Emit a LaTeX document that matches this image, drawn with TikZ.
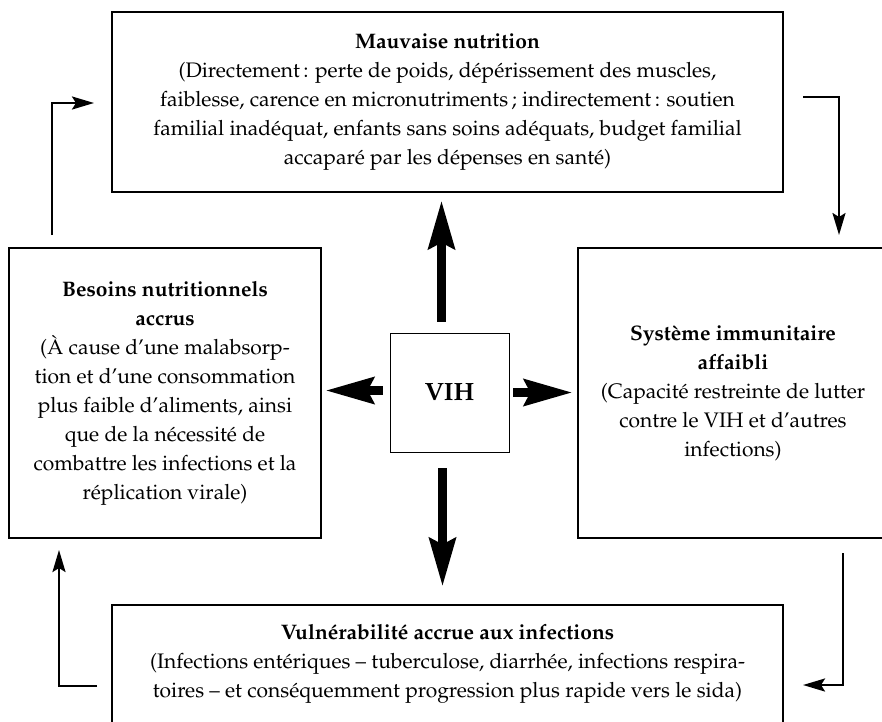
\documentclass[tikz,border=0pt]{standalone}
\IfFileExists{mathpazo.sty}
  {\usepackage[T1]{fontenc}\usepackage{mathpazo}}
  {\usepackage{fontspec}\setmainfont{Liberation Serif}}
\usetikzlibrary{arrows.meta}

\begin{document}
\begin{tikzpicture}[x=1pt,y=-1pt,
    box/.style={draw, line width=1.1pt, align=center, inner sep=0pt,
      font=\fontsize{21}{29}\selectfont},
    bigarrow/.style={line width=9pt, -{Stealth[length=48pt,width=26pt,inset=6pt]}},
    cyclearrow/.style={line width=2.4pt, -{Stealth[length=22pt,width=13pt,inset=4pt]}}]
    \useasboundingbox (0,0) rectangle (882,721);

    \node[box, minimum width=671pt, minimum height=180pt] (nutri) at (447.5,102)
      {\textbf{Mauvaise nutrition}\\
       (Directement\,: perte de poids, dépérissement des muscles,\\
       faiblesse, carence en micronutriments\,; indirectement\,: soutien\\
       familial inadéquat, enfants sans soins adéquats, budget familial\\
       accaparé par les dépenses en santé)};

    \node[box, minimum width=312pt, minimum height=290pt] (besoins) at (165,393)
      {\textbf{Besoins nutritionnels}\\
       \textbf{accrus}\\
       (À cause d'une malabsorp-\\
       tion et d'une consommation\\
       plus faible d'aliments, ainsi\\
       que de la nécessité de\\
       combattre les infections et la\\
       réplication virale)};

    \node[box, minimum width=310pt, minimum height=290pt] (immun) at (733,393)
      {\textbf{Système immunitaire}\\
       \textbf{affaibli}\\
       (Capacité restreinte de lutter\\
       contre le VIH et d'autres\\
       infections)};

    \node[box, minimum width=671pt, minimum height=118pt] (vulner) at (447.5,664)
      {\textbf{Vulnérabilité accrue aux infections}\\
       (Infections entériques -- tuberculose, diarrhée, infections respira-\\
       toires -- et conséquemment progression plus rapide vers le sida)};

    \node[box, line width=0.9pt, minimum width=119pt, minimum height=119pt,
      font=\fontsize{25}{29}\selectfont\bfseries] (vih) at (449.5,392.5) {VIH};

    % effets directs du VIH
    \draw[bigarrow, shorten <=11pt, shorten >=8pt]
      ([xshift=-8pt]vih.north) -- ([xshift=-8pt]vih.north |- nutri.south);
    \draw[bigarrow, shorten <=16pt, shorten >=18pt]
      ([xshift=-7pt]vih.south) -- ([xshift=-7pt]vih.south |- vulner.north);
    \draw[bigarrow, shorten <=7pt, shorten >=4pt]
      ([yshift=2pt]vih.west) -- ([yshift=2pt]vih.west -| besoins.east);
    \draw[bigarrow, shorten <=4pt, shorten >=5pt]
      (vih.east) -- (vih.east -| immun.west);

    % cercle vicieux
    \coordinate (A) at (52,235);
    \coordinate (B) at (94,103);
    \coordinate (C) at (803,97);
    \coordinate (D) at (839,235);
    \coordinate (E) at (843,553);
    \coordinate (F) at (803,685);
    \coordinate (G) at (97,686);
    \coordinate (H) at (59,550);

    \draw[cyclearrow] (A) |- (B);
    \draw[cyclearrow] (C) -| (D);
    \draw[cyclearrow] (E) |- (F);
    \draw[cyclearrow] (G) -| (H);
\end{tikzpicture}
\end{document}
